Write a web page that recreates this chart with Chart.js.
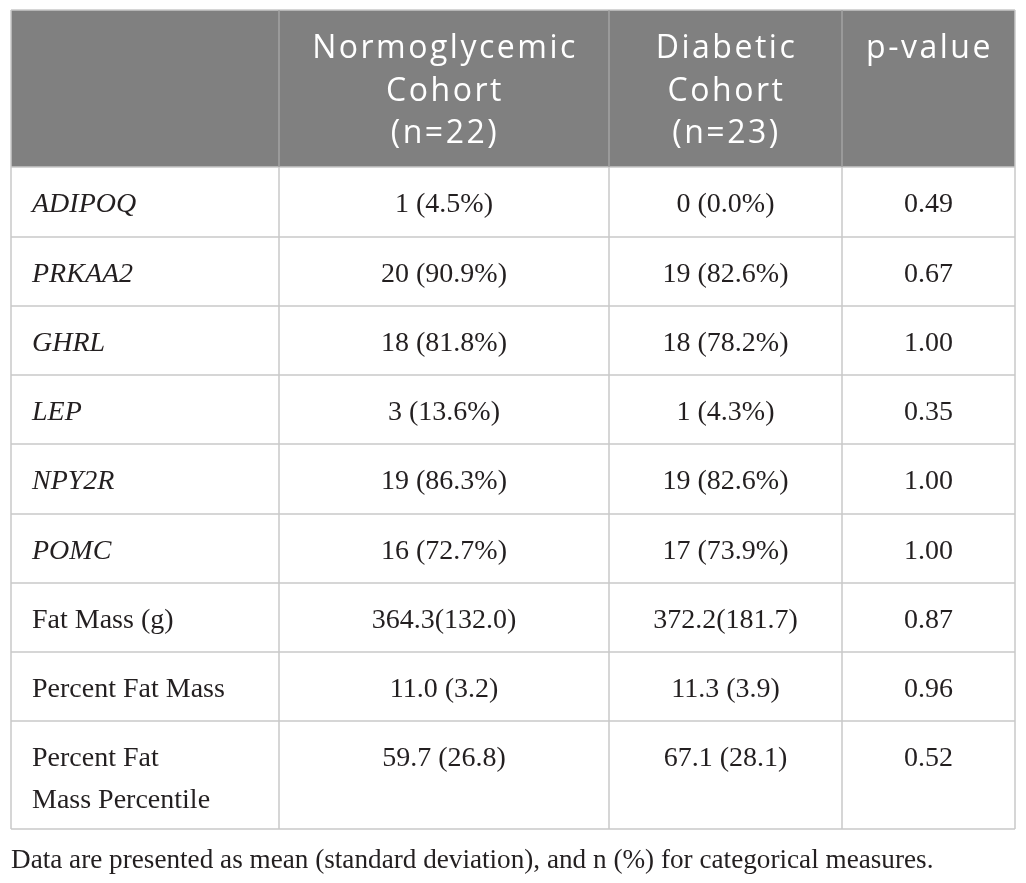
<!DOCTYPE html>
<html>
<head>
<meta charset="utf-8">
<title>Cohort comparison</title>
<script src="https://cdn.jsdelivr.net/npm/chart.js@4.4.1/dist/chart.umd.min.js"></script>
<style>
  html, body { margin: 0; padding: 0; background: #ffffff; }
  #wrap { width: 1026px; height: 883px; position: relative; }
</style>
</head>
<body>
<div id="wrap"><canvas id="cohortTable"></canvas></div>
<script>
// table content
const columnHeaders = ["", "Normoglycemic\nCohort\n(n=22)", "Diabetic\nCohort\n(n=23)", "p-value"];
const rowLabels = ["ADIPOQ", "PRKAA2", "GHRL", "LEP", "NPY2R", "POMC",
  "Fat Mass (g)", "Percent Fat Mass", "Percent Fat\nMass Percentile"];
const geneRows = ["ADIPOQ", "PRKAA2", "GHRL", "LEP", "NPY2R", "POMC"];
const normoglycemicValues = ["1 (4.5%)", "20 (90.9%)", "18 (81.8%)", "3 (13.6%)", "19 (86.3%)",
  "16 (72.7%)", "364.3(132.0)", "11.0 (3.2)", "59.7 (26.8)"];
const diabeticValues = ["0 (0.0%)", "19 (82.6%)", "18 (78.2%)", "1 (4.3%)", "19 (82.6%)",
  "17 (73.9%)", "372.2(181.7)", "11.3 (3.9)", "67.1 (28.1)"];
const pValues = ["0.49", "0.67", "1.00", "0.35", "1.00", "1.00", "0.87", "0.96", "0.52"];
const footnote = "Data are presented as mean (standard deviation), and n (%) for categorical measures.";

// layout (in table units, mapped through the chart scales)
const colWidths = [268, 330, 233, 173];
const headerHeight = 157;
const rowHeights = [70, 69, 69, 69, 70, 69, 69, 69, 108];

const serif = '"Liberation Serif", "Times New Roman", serif';
const sans = '"Open Sans", Lato, sans-serif';

const edges = sizes => sizes.reduce((acc, s) => { acc.push(acc[acc.length - 1] + s); return acc; }, [0]);
const colEdges = edges(colWidths);
const rowEdges = edges([headerHeight, ...rowHeights]);

const tablePlugin = {
  id: 'tableCells',
  afterDraw(chart) {
    const { ctx, scales: { x, y }, chartArea } = chart;
    const px = v => x.getPixelForValue(v);
    const py = v => y.getPixelForValue(v);
    const left = px(0), right = px(colEdges[colEdges.length - 1]);
    const top = py(0), bottom = py(rowEdges[rowEdges.length - 1]);

    ctx.save();

    // header band
    ctx.fillStyle = '#808080';
    ctx.fillRect(left, top, right - left, py(headerHeight) - top);

    // grid lines
    ctx.lineWidth = 1.5;
    ctx.strokeStyle = '#c9c9c9';
    rowEdges.forEach(r => {
      ctx.beginPath();
      ctx.moveTo(left, py(r));
      ctx.lineTo(right, py(r));
      ctx.stroke();
    });
    colEdges.forEach((c, i) => {
      ctx.beginPath();
      ctx.strokeStyle = (i === 0 || i === colEdges.length - 1) ? '#c9c9c9' : '#a3a3a3';
      ctx.moveTo(px(c), top);
      ctx.lineTo(px(c), py(headerHeight));
      ctx.stroke();
      ctx.beginPath();
      ctx.strokeStyle = '#c9c9c9';
      ctx.moveTo(px(c), py(headerHeight));
      ctx.lineTo(px(c), bottom);
      ctx.stroke();
    });

    // header text
    ctx.fillStyle = '#ffffff';
    ctx.textAlign = 'center';
    ctx.textBaseline = 'alphabetic';
    ctx.font = `400 32px ${sans}`;
    if ('letterSpacing' in ctx) ctx.letterSpacing = '2.5px';
    columnHeaders.forEach((h, i) => {
      const cx = px((colEdges[i] + colEdges[i + 1]) / 2);
      h.split('\n').forEach((line, k) => {
        ctx.fillText(line, cx + 1, top + 48 + k * 42.5);
      });
    });
    if ('letterSpacing' in ctx) ctx.letterSpacing = '0px';

    // body text
    ctx.fillStyle = '#231f20';
    const columns = [rowLabels, normoglycemicValues, diabeticValues, pValues];
    rowLabels.forEach((label, r) => {
      const rowTop = py(rowEdges[r + 1]);
      columns.forEach((col, c) => {
        const italic = c === 0 && geneRows.includes(label);
        ctx.font = `${italic ? 'italic ' : ''}28px ${serif}`;
        let tx;
        if (c === 0) {
          ctx.textAlign = 'left';
          tx = px(colEdges[0]) + 21;
        } else {
          ctx.textAlign = 'center';
          tx = px((colEdges[c] + colEdges[c + 1]) / 2);
        }
        col[r].split('\n').forEach((line, k) => {
          ctx.fillText(line, tx, rowTop + 45 + k * 42);
        });
      });
    });

    // footnote under the table
    ctx.font = `27.2px ${serif}`;
    ctx.textAlign = 'left';
    ctx.fillText(footnote, left, chartArea.bottom + 39);

    ctx.restore();
  }
};

new Chart(document.getElementById('cohortTable'), {
  type: 'scatter',
  data: { datasets: [] },
  options: {
    responsive: true,
    maintainAspectRatio: false,
    animation: false,
    devicePixelRatio: 1,
    layout: { padding: { top: 10, left: 11, right: 11, bottom: 54 } },
    plugins: { legend: { display: false }, tooltip: { enabled: false } },
    scales: {
      x: { type: 'linear', display: false, min: 0, max: colEdges[colEdges.length - 1] },
      y: { type: 'linear', display: false, reverse: true, min: 0, max: rowEdges[rowEdges.length - 1] }
    }
  },
  plugins: [tablePlugin]
});
</script>
</body>
</html>
